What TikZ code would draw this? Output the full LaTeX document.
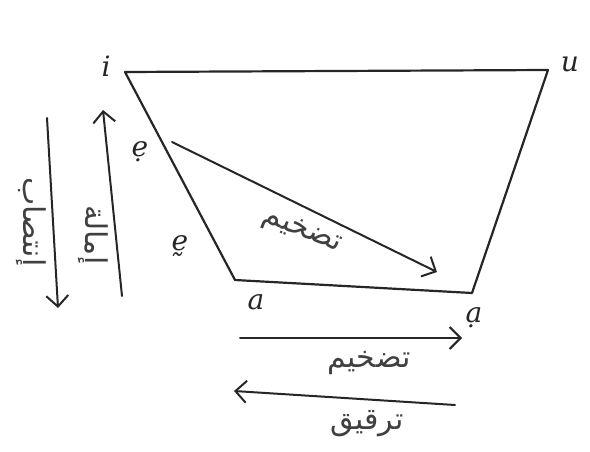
\documentclass[tikz,border=0pt]{standalone}
\usepackage{fontspec}
\usetikzlibrary{arrows.meta}
\TeXXeTstate=1
\newfontfamily\arabicfont[Script=Arabic]{DejaVu Sans}
\newfontfamily\vowelfont{DejaVu Serif}
\tikzset{
  edge/.style={line width=2.2pt, draw=black!85, line cap=round, line join=round},
  arr/.style={line width=2pt, draw=black!85, line cap=round, -{Straight Barb[length=11pt,width=22pt,line width=2pt]}},
  vowel/.style={font=\vowelfont\itshape\fontsize{28}{30}\selectfont, text=black!85, inner sep=0pt},
  artext/.style={font=\arabicfont\fontsize{30}{34}\selectfont, text=black!75, inner sep=0pt}
}
\begin{document}
\begin{tikzpicture}[x=1pt,y=-1pt]
\useasboundingbox (0,0) rectangle (590,452);
% trapezoid corners
\coordinate (TL) at (125,72);
\coordinate (TR) at (548,70);
\coordinate (BR) at (472,293);
\coordinate (BL) at (235,280);
\draw[edge] (TL) -- (TR) -- (BR) -- (BL) -- cycle;
% vowel labels
\node[vowel] (vi) at (106,66) {i};
\node[vowel] (vu) at (570,64) {u};
\node[vowel] (ve1) at (140,152) {ẹ};
\node[vowel] (ve2) at (180,246) {ḛ};
\node[vowel] (va) at (256,302) {a};
\node[vowel] (va2) at (474,318) {ạ};
% diagonal arrow
\coordinate (d1) at (172,142);
\coordinate (d2) at (437,272);
\draw[arr] (d1) -- (d2);
\node[artext, rotate=-22] (t1) at (302,232) {\beginR تضخيم\endR};
% bottom arrows
\coordinate (h1) at (240,338);
\coordinate (h2) at (462,338);
\draw[arr] (h1) -- (h2);
\node[artext] (t2) at (369,363) {\beginR تضخيم\endR};
\coordinate (g1) at (455,405);
\coordinate (g2) at (234,391);
\draw[arr] (g1) -- (g2);
\node[artext] (t3) at (367,424) {\beginR ترقيق\endR};
% vertical arrows
\coordinate (u1) at (122,296);
\coordinate (u2) at (103,110);
\draw[arr] (u1) -- (u2);
\node[artext, rotate=-90] (t4) at (93,235) {\beginR إمالة\endR};
\coordinate (w1) at (47,118);
\coordinate (w2) at (58,308);
\draw[arr] (w1) -- (w2);
\node[artext, rotate=-90] (t5) at (31,222) {\beginR إنتصاب\endR};
\end{tikzpicture}
\end{document}
